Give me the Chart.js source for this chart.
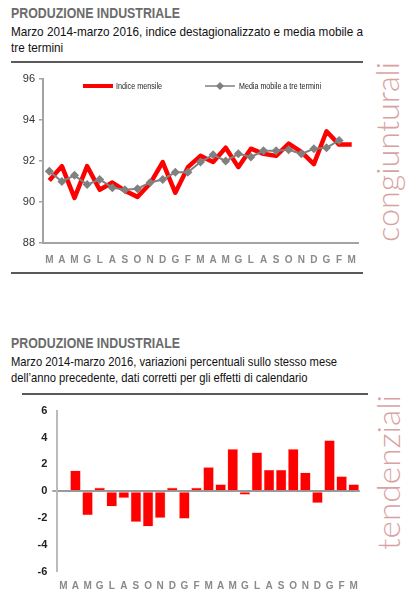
<!DOCTYPE html>
<html lang="it">
<head>
<meta charset="utf-8">
<title>Produzione industriale</title>
<script src="https://cdn.jsdelivr.net/npm/chart.js@4.4.1/dist/chart.umd.min.js"></script>
<style>
  html, body { margin: 0; padding: 0; background: #fff; }
  body { width: 415px; height: 599px; position: relative; overflow: hidden;
         font-family: "Liberation Sans Narrow", "Arial Narrow", "Liberation Sans", sans-serif; }
  .abs { position: absolute; white-space: nowrap; transform-origin: 0 0; }
  .titolo { font-size: 14px; font-weight: bold; color: #6b6b6b; line-height: 16px; }
  .sotto { font-size: 13px; color: #111; line-height: 15.5px; }
  .riga { position: absolute; height: 2px; background: #5a5a5a; }
  .lato { font-family: Lato, "Open Sans", sans-serif; font-weight: 300; font-size: 31px;
          line-height: 31px; color: #d9a2a2; }
  .leg { font-size: 9px; color: #222; line-height: 10px; }
  .box { position: absolute; }
</style>
</head>
<body>
<div class="abs titolo" id="t1" style="left:11px;top:5px">PRODUZIONE INDUSTRIALE</div>
<div class="abs sotto" id="s1" style="left:11px;top:24px">Marzo 2014-marzo 2016, indice destagionalizzato e media mobile a<br>tre termini</div>
<div class="riga" style="left:11px;top:61px;width:352px"></div>

<div class="box" style="left:0;top:65px;width:365px;height:205px"><canvas id="mensile"></canvas></div>

<svg class="abs" style="left:80px;top:80px" width="40" height="12">
  <line x1="3" y1="6" x2="33" y2="6" stroke="#ff0000" stroke-width="4"/>
</svg>
<div class="abs leg" id="l1" style="left:116px;top:81px">Indice mensile</div>
<svg class="abs" style="left:202px;top:80px" width="40" height="12">
  <line x1="3" y1="6" x2="33" y2="6" stroke="#808080" stroke-width="1.5"/>
  <polygon points="18,2 22,6 18,10 14,6" fill="#808080"/>
</svg>
<div class="abs leg" id="l2" style="left:239px;top:81px">Media mobile a tre termini</div>

<div class="riga" style="left:11px;top:272px;width:352px"></div>
<div class="abs lato" id="cong" style="left:371.5px;top:241.7px">congiunturali</div>

<div class="abs titolo" id="t2" style="left:11px;top:335px">PRODUZIONE INDUSTRIALE</div>
<div class="abs sotto" id="s2" style="left:11px;top:354px">Marzo 2014-marzo 2016, variazioni percentuali sullo stesso mese<br>dell’anno precedente, dati corretti per gli effetti di calendario</div>
<div class="riga" style="left:22px;top:393px;width:346px"></div>

<div class="box" style="left:0;top:398px;width:368px;height:201px"><canvas id="tendenze"></canvas></div>
<div class="abs lato" id="tend" style="left:373px;top:550px">tendenziali</div>

<script>
// mesi da marzo 2014 a marzo 2016
const mesi = ['M','A','M','G','L','A','S','O','N','D','G','F','M','A','M','G','L','A','S','O','N','D','G','F','M'];

// indice destagionalizzato
const indiceMensile = [91.05, 91.75, 90.2, 91.75, 90.6, 90.95, 90.55, 90.25, 90.9, 91.95, 90.45, 91.7,
  92.25, 91.95, 92.65, 91.7, 92.6, 92.35, 92.25, 92.85, 92.45, 91.85, 93.45, 92.8, 92.8];

// media mobile a tre termini (manca l'ultimo mese)
const mediaMobile = [91.5, 91.0, 91.3, 90.85, 91.1, 90.7, 90.6, 90.65, 90.95, 91.1, 91.45, 91.45,
  91.95, 92.3, 92.0, 92.35, 92.2, 92.5, 92.5, 92.55, 92.35, 92.6, 92.65, 93.0, null];

// variazioni tendenziali %
const variazioni = [-0.1, 1.55, -1.8, 0.27, -1.14, -0.52, -2.3, -2.63, -2.0, 0.27, -2.06, 0.27,
  1.8, 0.52, 3.15, -0.27, 2.9, 1.6, 1.6, 3.15, 1.4, -0.88, 3.8, 1.12, 0.52];

const scalaIndice = { min: 88, max: 96, passo: 2 };
const scalaVariazioni = { min: -6, max: 6, passo: 2 };

Chart.defaults.font.family = '"Liberation Sans Narrow", "Arial Narrow", "Liberation Sans", sans-serif';
Chart.defaults.animation = false;

const grigioAsse = '#a3a3a3';

const assiX = (altezza, pad) => ({
  offset: true,
  grid: { display: false },
  ticks: { color: '#8a8a8a', font: { size: 10, weight: 'bold' }, padding: pad, autoSkip: false, maxRotation: 0 },
  afterFit: s => { s.height = altezza; }
});

new Chart(document.getElementById('mensile'), {
  type: 'line',
  data: {
    labels: mesi,
    datasets: [
      {
        label: 'Indice mensile',
        data: indiceMensile,
        borderColor: '#ff0000',
        borderWidth: 4.5,
        borderJoinStyle: 'round',
        pointRadius: 0,
        tension: 0,
        order: 1
      },
      {
        label: 'Media mobile a tre termini',
        data: mediaMobile,
        borderColor: '#808080',
        backgroundColor: '#808080',
        borderWidth: 2,
        pointStyle: 'rectRot',
        pointRadius: 4.5,
        pointBorderWidth: 0,
        tension: 0,
        order: 0
      }
    ]
  },
  options: {
    responsive: true,
    maintainAspectRatio: false,
    layout: { padding: { top: 14, right: 7, left: 0, bottom: 0 } },
    plugins: { legend: { display: false }, tooltip: { enabled: false } },
    scales: {
      x: Object.assign(assiX(27, 3), { border: { color: grigioAsse, width: 2 } }),
      y: {
        min: scalaIndice.min, max: scalaIndice.max,
        ticks: { stepSize: scalaIndice.passo, color: '#333', font: { size: 11 }, padding: 4 },
        grid: { drawOnChartArea: false, color: grigioAsse, tickLength: 4, lineWidth: 1.5 },
        border: { color: grigioAsse, width: 2 },
        afterFit: s => { s.width = 43; }
      }
    }
  }
});

new Chart(document.getElementById('tendenze'), {
  type: 'bar',
  data: {
    labels: mesi,
    datasets: [{
      label: 'Variazioni tendenziali',
      data: variazioni,
      backgroundColor: '#ff0000',
      borderColor: '#ffb0b0',
      borderWidth: 0.6,
      barPercentage: 0.88,
      categoryPercentage: 1
    }]
  },
  options: {
    responsive: true,
    maintainAspectRatio: false,
    layout: { padding: { top: 12.7, right: 8.2, left: 0, bottom: 0 } },
    plugins: { legend: { display: false }, tooltip: { enabled: false } },
    scales: {
      x: Object.assign(assiX(27.3, 1), { border: { display: false } }),
      y: {
        min: scalaVariazioni.min, max: scalaVariazioni.max,
        ticks: { stepSize: scalaVariazioni.passo, color: '#222', font: { size: 11, weight: 'bold' }, padding: 5 },
        grid: {
          color: c => (c.tick && c.tick.value === 0 ? '#9a9a9a' : 'rgba(0,0,0,0)'),
          lineWidth: c => (c.tick && c.tick.value === 0 ? 2 : 0),
          tickColor: grigioAsse,
          tickLength: 5
        },
        border: { color: '#bbbbbb', width: 2 },
        afterFit: s => { s.width = 57.3; }
      }
    }
  }
});

// testi orizzontali stretti alla larghezza del riferimento (manca un font condensato)
function stringi(id, larghezza) {
  const el = document.getElementById(id);
  const w = el.getBoundingClientRect().width;
  el.style.transform = 'scaleX(' + Math.min(1, larghezza / w) + ')';
}
stringi('t1', 169);
stringi('t2', 169);
stringi('s1', 352);
stringi('s2', 326);
stringi('l1', 46);
stringi('l2', 82);

// scritte laterali ruotate, adattate all'altezza del riferimento
function ruota(id, lunghezza) {
  const el = document.getElementById(id);
  const w = el.getBoundingClientRect().width;
  el.style.transform = 'rotate(-90deg) scaleX(' + (lunghezza / w) + ')';
}
ruota('cong', 180);
ruota('tend', 155);
</script>
</body>
</html>
